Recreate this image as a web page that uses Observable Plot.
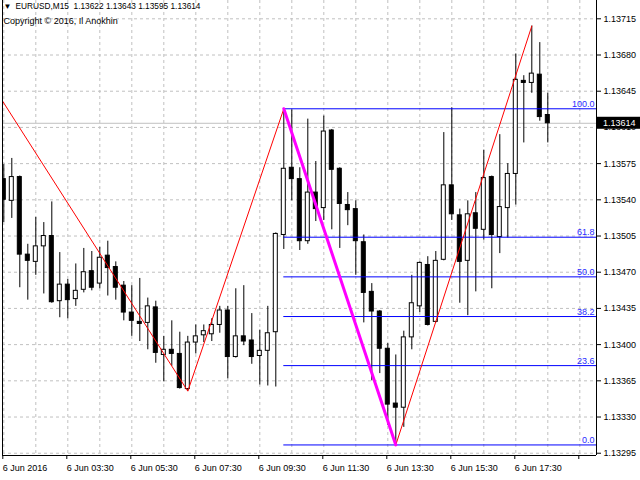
<!DOCTYPE html>
<html><head><meta charset="utf-8">
<script src="https://cdn.jsdelivr.net/npm/d3@7"></script>
<script src="https://cdn.jsdelivr.net/npm/@observablehq/plot@0.6"></script>
<style>body{margin:0;background:#fff} svg{display:block}</style>
</head><body><div id="chart"></div>
<script>
const symbol = "EURUSD,M15";
const copyright = "Copyright © 2016, Il Anokhin";

const open  = [1.13560,1.13539,1.13562,1.13487,1.13480,1.13495,1.13505,1.13442,1.13458,1.13444,
               1.13453,1.13471,1.13459,1.13486,1.13475,1.13457,1.13431,1.13422,1.13421,1.13436,
               1.13390,1.13395,1.13391,1.13357,1.13402,1.13409,1.13410,1.13419,1.13433,1.13388,
               1.13408,1.13404,1.13389,1.13394,1.13412,1.13506,1.13571,1.13560,1.13500,1.13547,
               1.13532,1.13607,1.13570,1.13535,1.13531,1.13499,1.13451,1.13432,1.13396,1.13343,
               1.13339,1.13407,1.13437,1.13477,1.13422,1.13482,1.13554,1.13525,1.13481,1.13527,
               1.13511,1.13562,1.13504,1.13532,1.13565,1.13655,1.13653,1.13661,1.13622];
const high  = [1.13574,1.13580,1.13563,1.13497,1.13523,1.13518,1.13538,1.13489,1.13463,1.13478,
               1.13493,1.13490,1.13494,1.13500,1.13480,1.13461,1.13457,1.13464,1.13445,1.13442,
               1.13408,1.13423,1.13412,1.13408,1.13419,1.13419,1.13425,1.13437,1.13437,1.13454,
               1.13457,1.13430,1.13414,1.13437,1.13508,1.13628,1.13627,1.13571,1.13618,1.13577,
               1.13621,1.13608,1.13571,1.13547,1.13539,1.13506,1.13459,1.13433,1.13401,1.13390,
               1.13413,1.13467,1.13480,1.13485,1.13490,1.13605,1.13629,1.13531,1.13539,1.13547,
               1.13588,1.13563,1.13603,1.13575,1.13681,1.13660,1.13708,1.13692,1.13643];
const low   = [1.13518,1.13522,1.13455,1.13443,1.13467,1.13449,1.13440,1.13426,1.13425,1.13437,
               1.13450,1.13452,1.13454,1.13447,1.13443,1.13423,1.13408,1.13403,1.13395,1.13382,
               1.13364,1.13379,1.13357,1.13355,1.13391,1.13402,1.13403,1.13411,1.13367,1.13387,
               1.13399,1.13381,1.13361,1.13360,1.13359,1.13492,1.13539,1.13491,1.13497,1.13519,
               1.13520,1.13511,1.13493,1.13515,1.13467,1.13421,1.13365,1.13372,1.13322,1.13303,
               1.13320,1.13395,1.13431,1.13418,1.13421,1.13481,1.13520,1.13440,1.13428,1.13451,
               1.13501,1.13454,1.13488,1.13503,1.13535,1.13595,1.13643,1.13616,1.13595];
const close = [1.13540,1.13562,1.13487,1.13481,1.13495,1.13505,1.13441,1.13458,1.13443,1.13452,
               1.13470,1.13455,1.13484,1.13474,1.13455,1.13431,1.13423,1.13420,1.13437,1.13392,
               1.13395,1.13391,1.13358,1.13402,1.13408,1.13413,1.13419,1.13433,1.13388,1.13408,
               1.13403,1.13388,1.13394,1.13411,1.13507,1.13570,1.13560,1.13500,1.13547,1.13531,
               1.13606,1.13569,1.13536,1.13530,1.13500,1.13450,1.13432,1.13396,1.13342,1.13339,
               1.13407,1.13440,1.13479,1.13419,1.13481,1.13554,1.13526,1.13480,1.13526,1.13512,
               1.13561,1.13506,1.13533,1.13565,1.13656,1.13653,1.13662,1.13620,1.13614];

const zigzagBar   = [-0.2, 23, 35, 49, 66];
const zigzagPrice = [1.13636, 1.13355, 1.13628, 1.13303, 1.13708];
const fibStartBar = 35;
const fibLevels = [0, 23.6, 38.2, 50, 61.8, 100];

const yTicks = [1.13295,1.13330,1.13365,1.13400,1.13435,1.13470,1.13505,1.13540,1.13575,1.13610,1.13645,1.13680,1.13715];
const xTicks = [0, 8, 16, 24, 32, 40, 48, 56, 64, 72];
const timeLabels = ["6 Jun 2016","6 Jun 03:30","6 Jun 05:30","6 Jun 07:30","6 Jun 09:30","6 Jun 11:30","6 Jun 13:30","6 Jun 15:30","6 Jun 17:30"];
const xGrid = d3.range(0, 76, 4);

const xDomain = [-0.1625, 74.0875];
const yDomain = [1.132928, 1.137327];

const bars = open.map((o, i) => ({i, o, h: high[i], l: low[i], c: close[i]}));
const up = bars.filter(b => b.c >= b.o);
const down = bars.filter(b => b.c < b.o);
const zz = zigzagBar.map((b, k) => ({b, p: zigzagPrice[k]}));
const fibHigh = zigzagPrice[2], fibLow = zigzagPrice[3];
const fibs = fibLevels.map(l => ({l, p: fibLow + (fibHigh - fibLow) * l / 100}));
const last = bars[bars.length - 1];
const header = `${symbol}  ${[last.o, last.h, last.l, last.c].map(d3.format(".5f")).join(" ")}`;

const font = "Liberation Sans, Arial, sans-serif";
const chart = Plot.plot({
  width: 640, height: 480,
  marginLeft: 2, marginRight: 44, marginTop: 0, marginBottom: 25,
  style: {fontFamily: font, fontSize: "9px", background: "white", color: "black"},
  x: {type: "linear", domain: xDomain, axis: null},
  y: {domain: yDomain, axis: null},
  marks: [
    Plot.gridY(yTicks, {stroke: "#c0c0c0", strokeOpacity: 1, strokeDasharray: "3,3"}),
    Plot.gridX(xGrid, {stroke: "#c0c0c0", strokeOpacity: 1, strokeDasharray: "3,3"}),
    Plot.ruleY([last.c], {stroke: "#c0c0c0"}),
    Plot.ruleX(bars, {x: "i", y1: "l", y2: "h", stroke: "black", clip: true}),
    Plot.rect(up, {x1: d => d.i - 0.25, x2: d => d.i + 0.25, y1: "o", y2: "c", fill: "white", stroke: "black", clip: true}),
    Plot.rect(down, {x1: d => d.i - 0.25, x2: d => d.i + 0.25, y1: "o", y2: "c", fill: "black", stroke: "black", clip: true}),
    Plot.ruleY(fibs, {y: "p", x1: fibStartBar, x2: xDomain[1], stroke: "#0000ff"}),
    Plot.line(zz, {x: "b", y: "p", stroke: "red", strokeWidth: 1, clip: true}),
    Plot.line(zz.slice(2, 4), {x: "b", y: "p", stroke: "#ff00ff", strokeWidth: 3}),
    Plot.text(fibs, {y: "p", text: d => d3.format(".1f")(d.l), frameAnchor: "right", textAnchor: "end", lineAnchor: "bottom", dx: -2, dy: -2, fill: "#2a2aff", fontSize: 9}),
    Plot.text(["▼"], {frameAnchor: "top-left", textAnchor: "start", lineAnchor: "top", dx: 1, dy: 3, fontSize: 8}),
    Plot.text([header], {frameAnchor: "top-left", textAnchor: "start", lineAnchor: "top", dx: 13, dy: 3, fontSize: 8.3}),
    Plot.text([copyright], {frameAnchor: "top-left", textAnchor: "start", lineAnchor: "top", dx: 1, dy: 17, fontSize: 9}),
    Plot.axisY(yTicks, {anchor: "right", tickSize: 4, tickPadding: 3, tickFormat: d3.format(".5f"), fontSize: 9}),
    Plot.axisX(xTicks, {anchor: "bottom", tickSize: 4, tickPadding: 5, textAnchor: "start", dx: -1,
      tickFormat: d => timeLabels[xTicks.indexOf(d)] ?? "", fontSize: 9}),
    Plot.ruleX([xDomain[0], xDomain[1]], {stroke: "black"}),
    Plot.ruleY([yDomain[0]], {stroke: "black"})
  ]
});
document.getElementById("chart").appendChild(chart);

// current price box on the right axis
const ys = chart.scale("y").apply(last.c);
const svg = d3.select(chart);
const bx = 640 - 44 + 1;
svg.append("rect").attr("x", bx).attr("y", ys - 6).attr("width", 43).attr("height", 12).attr("fill", "black");
svg.append("text").attr("x", bx + 6).attr("y", ys).attr("dy", "0.32em").attr("text-anchor", "start")
  .attr("fill", "white").attr("font-family", font).attr("font-size", 9).text(d3.format(".5f")(last.c));
</script>
</body></html>
